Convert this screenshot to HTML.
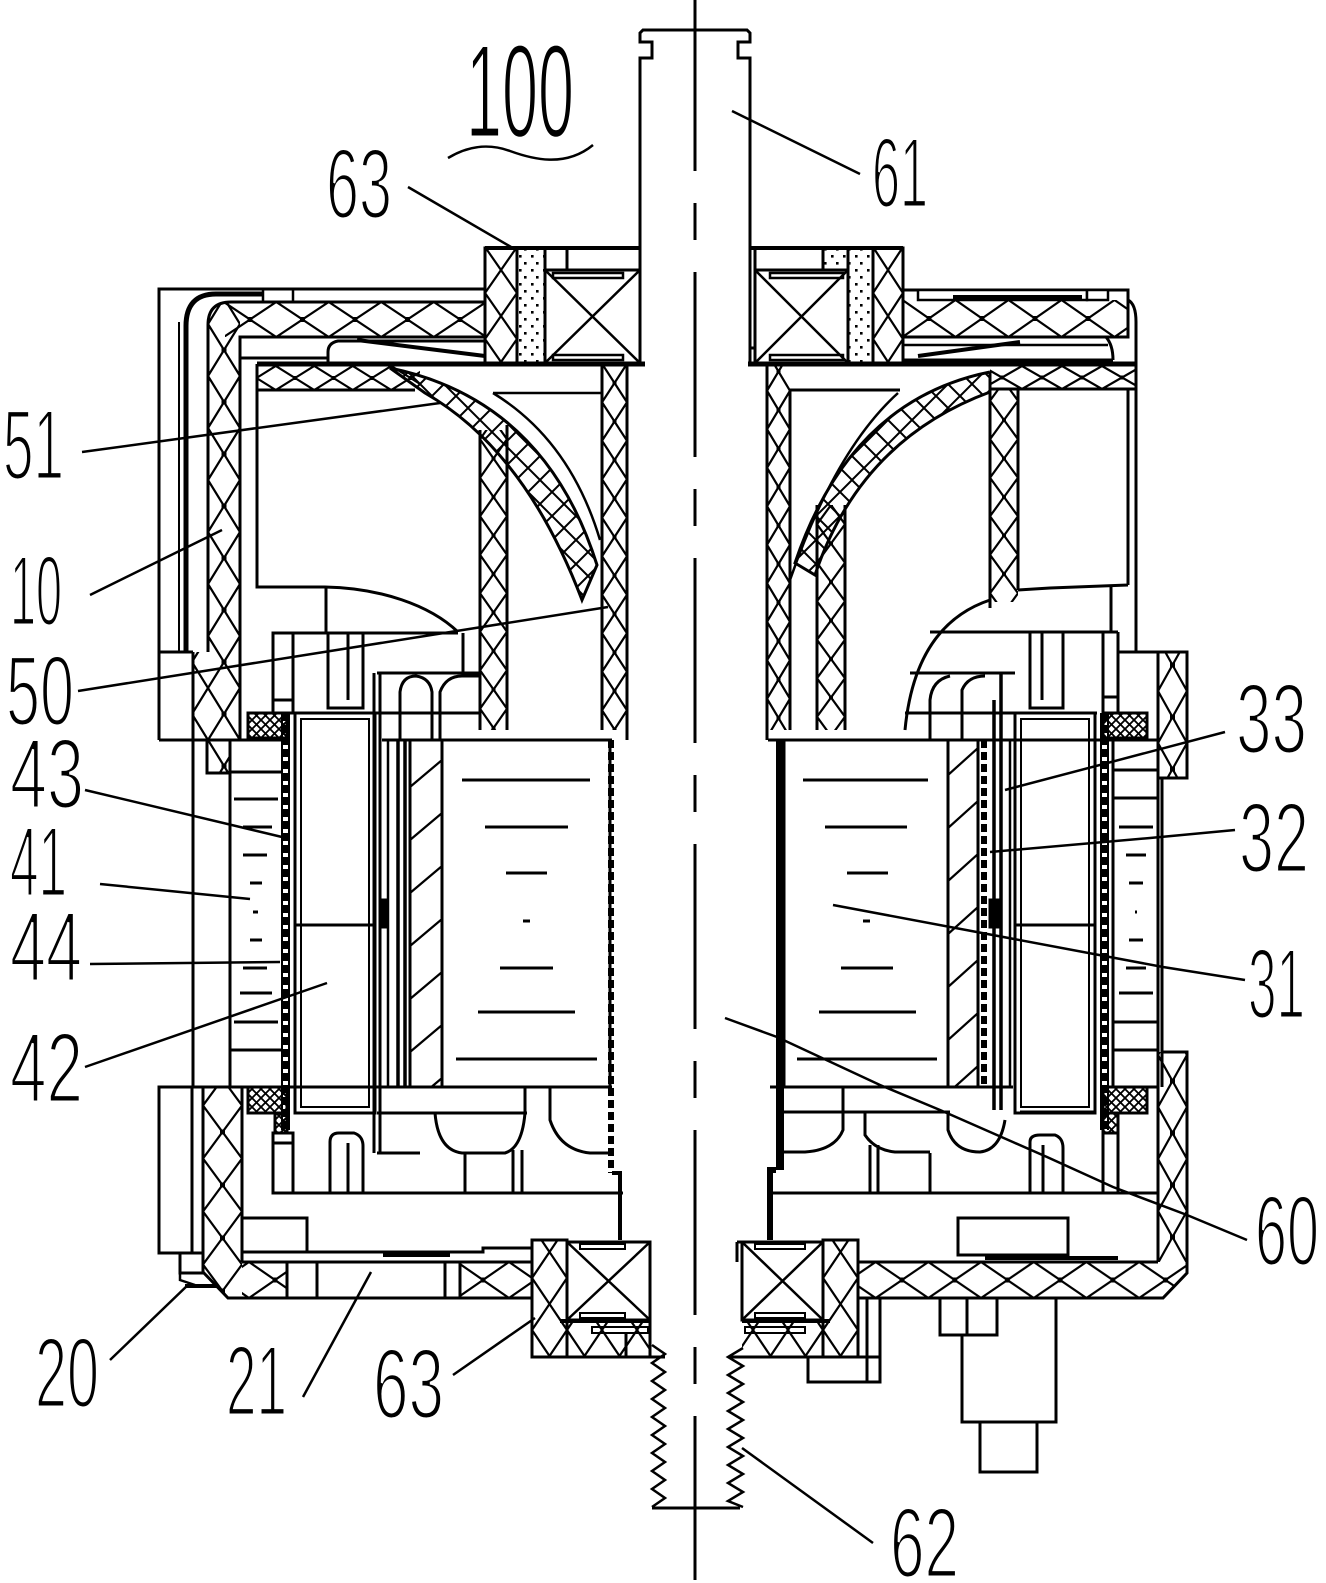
<!DOCTYPE html>
<html><head><meta charset="utf-8"><title>Motor section 100</title>
<style>html,body{margin:0;padding:0;background:#fff;}svg{display:block;}</style></head>
<body>
<svg xmlns="http://www.w3.org/2000/svg" width="1326" height="1583" viewBox="0 0 1326 1583">
<defs>
<pattern id="pA" patternUnits="userSpaceOnUse" x="250" y="302" width="52.5" height="35"><path d="M0,17.5L26.25,0L52.5,17.5L26.25,35Z" fill="none" stroke="#000" stroke-width="2.2"/><rect x="-2.5" y="15" width="5" height="5"/><rect x="50" y="15" width="5" height="5"/></pattern>
<pattern id="pB" patternUnits="userSpaceOnUse" x="208" y="350" width="32" height="52"><path d="M0,26L16,0L32,26L16,52Z" fill="none" stroke="#000" stroke-width="2.2"/><rect x="13.5" y="-2.5" width="5" height="5"/><rect x="13.5" y="49.5" width="5" height="5"/></pattern>
<pattern id="pC" patternUnits="userSpaceOnUse" x="1035" y="300" width="53" height="37"><path d="M0,18.5L26.5,0L53,18.5L26.5,37Z" fill="none" stroke="#000" stroke-width="2.2"/><rect x="-2.5" y="16" width="5" height="5"/><rect x="50.5" y="16" width="5" height="5"/></pattern>
<pattern id="pD" patternUnits="userSpaceOnUse" x="295" y="366" width="38.5" height="24"><path d="M0,12L19.25,0L38.5,12L19.25,24Z" fill="none" stroke="#000" stroke-width="2.2"/><rect x="-2" y="10" width="4" height="4"/><rect x="36.5" y="10" width="4" height="4"/></pattern>
<pattern id="pE" patternUnits="userSpaceOnUse" x="1042" y="366" width="40" height="23"><path d="M0,11.5L20,0L40,11.5L20,23Z" fill="none" stroke="#000" stroke-width="2.2"/><rect x="-2" y="9.5" width="4" height="4"/><rect x="38" y="9.5" width="4" height="4"/></pattern>
<pattern id="pF" patternUnits="userSpaceOnUse" x="602" y="383" width="25" height="38.5"><path d="M0,19.25L12.5,0L25,19.25L12.5,38.5Z" fill="none" stroke="#000" stroke-width="2.2"/><rect x="10.5" y="-2" width="4" height="4"/><rect x="10.5" y="36.5" width="4" height="4"/></pattern>
<pattern id="pG" patternUnits="userSpaceOnUse" x="767" y="410" width="23" height="38.5"><path d="M0,19.25L11.5,0L23,19.25L11.5,38.5Z" fill="none" stroke="#000" stroke-width="2.2"/><rect x="9.5" y="-2" width="4" height="4"/><rect x="9.5" y="36.5" width="4" height="4"/></pattern>
<pattern id="pH" patternUnits="userSpaceOnUse" x="480" y="420" width="27" height="38.5"><path d="M0,19.25L13.5,0L27,19.25L13.5,38.5Z" fill="none" stroke="#000" stroke-width="2.2"/><rect x="11.5" y="-2" width="4" height="4"/><rect x="11.5" y="36.5" width="4" height="4"/></pattern>
<pattern id="pI" patternUnits="userSpaceOnUse" x="817" y="505" width="28" height="38.5"><path d="M0,19.25L14,0L28,19.25L14,38.5Z" fill="none" stroke="#000" stroke-width="2.2"/><rect x="12" y="-2" width="4" height="4"/><rect x="12" y="36.5" width="4" height="4"/></pattern>
<pattern id="pJ" patternUnits="userSpaceOnUse" x="990" y="420" width="28" height="38.5"><path d="M0,19.25L14,0L28,19.25L14,38.5Z" fill="none" stroke="#000" stroke-width="2.2"/><rect x="12" y="-2" width="4" height="4"/><rect x="12" y="36.5" width="4" height="4"/></pattern>
<pattern id="pK" patternUnits="userSpaceOnUse" x="275" y="1262" width="52" height="36"><path d="M0,18L26,0L52,18L26,36Z" fill="none" stroke="#000" stroke-width="2.2"/><rect x="-2.5" y="15.5" width="5" height="5"/><rect x="49.5" y="15.5" width="5" height="5"/></pattern>
<pattern id="pL" patternUnits="userSpaceOnUse" x="902" y="1262" width="52.7" height="36"><path d="M0,18L26.35,0L52.7,18L26.35,36Z" fill="none" stroke="#000" stroke-width="2.2"/><rect x="-2.5" y="15.5" width="5" height="5"/><rect x="50.2" y="15.5" width="5" height="5"/></pattern>
<pattern id="pM" patternUnits="userSpaceOnUse" x="1158" y="665" width="29" height="52"><path d="M0,26L14.5,0L29,26L14.5,52Z" fill="none" stroke="#000" stroke-width="2.2"/><rect x="12" y="-2.5" width="5" height="5"/><rect x="12" y="49.5" width="5" height="5"/></pattern>
<pattern id="pN" patternUnits="userSpaceOnUse" x="203" y="1132" width="39" height="53"><path d="M0,26.5L19.5,0L39,26.5L19.5,53Z" fill="none" stroke="#000" stroke-width="2.2"/><rect x="17" y="-2.5" width="5" height="5"/><rect x="17" y="50.5" width="5" height="5"/></pattern>
<pattern id="pO1" patternUnits="userSpaceOnUse" x="485" y="270" width="32" height="46"><path d="M0,23L16,0L32,23L16,46Z" fill="none" stroke="#000" stroke-width="2.2"/></pattern>
<pattern id="pO2" patternUnits="userSpaceOnUse" x="873" y="270" width="30" height="46"><path d="M0,23L15,0L30,23L15,46Z" fill="none" stroke="#000" stroke-width="2.2"/></pattern>
<pattern id="pP1" patternUnits="userSpaceOnUse" x="532" y="1252" width="35" height="52"><path d="M0,26L17.5,0L35,26L17.5,52Z" fill="none" stroke="#000" stroke-width="2.2"/></pattern>
<pattern id="pP2" patternUnits="userSpaceOnUse" x="823" y="1252" width="35" height="52"><path d="M0,26L17.5,0L35,26L17.5,52Z" fill="none" stroke="#000" stroke-width="2.2"/></pattern>
<pattern id="pS" patternUnits="userSpaceOnUse" x="0" y="0" width="9" height="9"><path d="M0,0L9,9M9,0L0,9" fill="none" stroke="#000" stroke-width="1.8"/></pattern>
<pattern id="pT" patternUnits="userSpaceOnUse" x="0" y="0" width="12" height="14"><rect x="3" y="3" width="2.6" height="2.6" fill="#000"/><rect x="8" y="10" width="2.6" height="2.6" fill="#000"/></pattern>
<pattern id="pU" patternUnits="userSpaceOnUse" x="410" y="760" width="32" height="53"><path d="M32,0L0,27" fill="none" stroke="#000" stroke-width="2.2"/></pattern>
<pattern id="pV" patternUnits="userSpaceOnUse" x="948" y="748" width="30" height="53"><path d="M30,0L0,27" fill="none" stroke="#000" stroke-width="2.2"/></pattern>
<pattern id="pW" patternUnits="userSpaceOnUse" x="0" y="0" width="24" height="24"><path d="M0,12L12,0L24,12L12,24Z" fill="none" stroke="#000" stroke-width="2"/></pattern>
</defs>
<rect width="1326" height="1583" fill="#fff"/>

<!-- hatch fills -->
<g stroke="none">
<rect x="225" y="302" width="260" height="35" fill="url(#pA)"/>
<path d="M208,740L208,325Q208,302 231,302L240,302L240,740Z" fill="url(#pB)"/>
<rect x="193" y="652" width="15" height="88" fill="url(#pB)"/>
<rect x="207" y="740" width="23" height="33" fill="url(#pB)"/>
<rect x="485" y="248" width="32" height="115" fill="url(#pO1)"/>
<rect x="517" y="248" width="28" height="115" fill="url(#pT)"/>
<rect x="873" y="248" width="30" height="115" fill="url(#pO2)"/>
<rect x="848" y="248" width="25" height="115" fill="url(#pT)"/>
<rect x="823" y="248" width="25" height="22" fill="url(#pT)"/>
<rect x="903" y="300" width="225" height="37" fill="url(#pC)"/>
<rect x="257" y="366" width="163" height="24" fill="url(#pD)"/>
<rect x="990" y="366" width="146" height="23" fill="url(#pE)"/>
<rect x="602" y="366" width="25" height="364" fill="url(#pF)"/>
<rect x="767" y="366" width="23" height="364" fill="url(#pG)"/>
<rect x="480" y="430" width="27" height="300" fill="url(#pH)"/>
<rect x="817" y="505" width="28" height="225" fill="url(#pI)"/>
<rect x="990" y="389" width="28" height="213" fill="url(#pJ)"/>
<path d="M390,368Q545,400 597,565L582,600Q525,450 425,393Z" fill="url(#pW)"/>
<path d="M990,372Q850,400 795,563L815,575Q860,440 990,392Z" fill="url(#pW)"/>
<rect x="248" y="713" width="39" height="25" fill="url(#pS)"/>
<rect x="248" y="1087" width="39" height="26" fill="url(#pS)"/>
<rect x="275" y="1113" width="12" height="20" fill="url(#pS)"/>
<rect x="1103" y="713" width="44" height="25" fill="url(#pS)"/>
<rect x="1103" y="1087" width="44" height="26" fill="url(#pS)"/>
<rect x="1103" y="1113" width="15" height="20" fill="url(#pS)"/>
<rect x="410" y="740" width="32" height="347" fill="url(#pU)"/>
<rect x="948" y="740" width="30" height="347" fill="url(#pV)"/>
<rect x="1158" y="652" width="29" height="126" fill="url(#pM)"/>
<rect x="1158" y="1052" width="29" height="210" fill="url(#pM)"/>
<rect x="203" y="1087" width="39" height="175" fill="url(#pN)"/>
<path d="M203,1262L242,1262L242,1298L228,1298L203,1272Z" fill="url(#pN)"/>
<rect x="242" y="1262" width="45" height="36" fill="url(#pK)"/>
<rect x="460" y="1262" width="72" height="36" fill="url(#pK)"/>
<rect x="858" y="1262" width="300" height="36" fill="url(#pL)"/>
<path d="M1158,1262L1187,1262L1187,1273L1163,1298L1158,1298Z" fill="url(#pL)"/>
<rect x="532" y="1240" width="35" height="117" fill="url(#pP1)"/>
<rect x="567" y="1322" width="83" height="35" fill="url(#pP1)"/>
<rect x="823" y="1240" width="35" height="117" fill="url(#pP2)"/>
<rect x="742" y="1322" width="81" height="35" fill="url(#pP2)"/>
</g>

<g fill="none" stroke="#000" stroke-width="3">
<!-- center line -->
<line x1="695" y1="-14" x2="695" y2="1580" stroke-dasharray="185 32 37 32"/>
<!-- shaft top -->
<path d="M640,363L640,58L652,58L652,42L640,42L640,33L643,30L747,30L750,33L750,42L738,42L738,58L750,58L750,363"/>

<!-- left cover & housing -->
<path d="M159,740L159,289L485,289"/>
<path d="M159,652L193,652"/>
<path d="M159,740L282,740"/>
<path d="M193,652L193,1087"/>
<path d="M186,652L186,326Q186,294 216,294L263,294" stroke-width="5"/>
<path d="M179,652L179,322" stroke-width="2"/>
<rect x="263" y="289" width="30" height="13" stroke-width="2.5"/>
<path d="M208,652L208,325Q208,302 231,302L485,302"/>
<path d="M240,740L240,337L485,337"/>
<path d="M207,740L207,773L230,773"/>
<path d="M230,740L230,1087"/>

<!-- left fan -->
<path d="M240,358L328,358"/>
<path d="M485,341L338,341Q328,343 328,352L328,363"/>
<path d="M357,340L485,356" stroke-width="4"/>
<path d="M257,364L645,364" stroke-width="5"/>
<path d="M257,364L257,587L325,587C380,588 430,605 458,632"/>
<path d="M257,390L415,390"/>
<path d="M390,368Q545,400 597,565L582,600Q525,450 425,393Z"/>
<path d="M493,393L602,393" stroke-width="2.5"/>
<path d="M493,393Q570,440 600,540" stroke-width="2.5"/>
<path d="M602,364L602,730M627,364L627,740"/>
<path d="M480,430L480,730M507,425L507,730"/>
<path d="M326,587L326,633"/>

<!-- top-left bearing -->
<rect x="485" y="248" width="32" height="115"/>
<rect x="517" y="248" width="28" height="115"/>
<rect x="545" y="248" width="95" height="22"/>
<path d="M567,248L567,270"/>
<rect x="545" y="270" width="95" height="93"/>
<path d="M545,270L640,363M640,270L545,363" stroke-width="2.5"/>
<rect x="553" y="273" width="70" height="5" stroke-width="2.5"/>
<rect x="553" y="355" width="70" height="5" stroke-width="2.5"/>
<path d="M485,248L640,248" stroke-width="4"/>

<!-- top-right bearing -->
<rect x="873" y="248" width="30" height="115"/>
<rect x="848" y="248" width="25" height="115"/>
<path d="M823,248L823,270L848,270"/>
<rect x="755" y="248" width="68" height="22"/>
<rect x="755" y="270" width="93" height="93"/>
<path d="M755,270L848,363M848,270L755,363" stroke-width="2.5"/>
<rect x="770" y="273" width="73" height="5" stroke-width="2.5"/>
<rect x="770" y="355" width="73" height="5" stroke-width="2.5"/>
<path d="M750,248L903,248" stroke-width="4"/>
<path d="M750,348L755,348" />

<!-- right housing top -->
<path d="M903,290L1128,290L1128,337L903,337"/>
<rect x="918" y="290" width="169" height="10" fill="#fff" stroke-width="2.5"/>
<path d="M953,297L1082,297" stroke-width="4"/>
<rect x="1087" y="290" width="21" height="10" fill="#fff" stroke-width="2.5"/>
<path d="M1128,300Q1136,304 1136,322L1136,652"/>
<path d="M903,345L1108,345" stroke-width="2.5"/>
<path d="M903,360L1113,360"/>
<path d="M1106,337Q1113,345 1113,360"/>
<path d="M918,356L1020,342" stroke-width="4"/>
<path d="M748,364L1137,364" stroke-width="5"/>

<!-- right fan -->
<path d="M990,389L1136,389"/>
<path d="M1128,389L1128,585M1018,389L1018,590M1018,590L1050,588L1128,585"/>
<path d="M990,372L990,608"/>
<path d="M990,372Q850,400 795,563L815,575Q860,440 990,392"/>
<path d="M898,393Q835,450 790,580" stroke-width="2.5"/>
<path d="M790,390L900,390"/>
<path d="M767,364L767,740M790,390L790,730"/>
<path d="M817,505L817,730M845,505L845,730"/>
<path d="M990,600Q915,625 905,730"/>

<!-- right fins -->
<path d="M930,632L1118,632"/>
<path d="M1030,632L1030,708L1063,708L1063,632"/>
<path d="M1042,632L1042,700"/>
<path d="M1103,632L1103,713M1118,632L1118,713M1103,697L1118,697"/>
<path d="M1111,585L1111,632"/>
<path d="M910,673L1015,673"/>
<path d="M930,740L930,700Q932,680 950,676M962,740L962,690Q968,676 985,676"/>
<path d="M1118,652L1187,652L1187,778L1158,778L1158,652"/>
<path d="M905,713L1097,713M768,740L1113,740"/>

<!-- left fins -->
<rect x="273" y="633" width="20" height="80"/>
<path d="M273,700L293,700"/>
<path d="M328,633L328,708L363,708L363,633M348,633L348,700"/>
<path d="M273,633L458,633"/>
<path d="M463,633L463,673"/>
<path d="M377,673L480,673"/>
<path d="M400,740L400,692Q402,676 416,676Q430,678 432,692L432,740"/>
<path d="M440,740L440,692Q446,676 462,676L480,676"/>
<path d="M248,713L480,713"/>
<path d="M382,740L612,740"/>

<!-- left stator / rotor -->
<path d="M230,772L282,772M230,1050L282,1050"/>
<path d="M234,799L278,799M243,827L272,827M243,855L267,855M250,883L262,883M253,912L258,912M250,940L262,940M243,968L267,968M240,993L272,993M234,1022L278,1022"/>
<path d="M282,713L282,1130M289,713L289,1130" stroke-width="2"/>
<path d="M285.5,713L285.5,1130" stroke-width="5" stroke-dasharray="8 4"/>
<rect x="248" y="713" width="39" height="25"/>
<rect x="248" y="1087" width="39" height="26"/>
<rect x="275" y="1113" width="12" height="20"/>
<rect x="295" y="713" width="80" height="400"/>
<rect x="301" y="719" width="68" height="388" stroke-width="2"/>
<path d="M295,925L375,925"/>
<path d="M374,673L374,1153M380,673L380,1153"/>
<rect x="380" y="900" width="6" height="27" fill="#000"/>
<path d="M388,740L388,1087" stroke-width="2.5"/>
<path d="M398,740L398,1087M405,740L405,1087" stroke-width="3.5"/>
<rect x="410" y="740" width="32" height="347"/>
<rect x="442" y="740" width="168" height="347"/>
<path d="M611,740L611,1173" stroke-width="6" stroke-dasharray="8 4"/>
<path d="M462,780L590,780M485,827L568,827M506,873L547,873M523,921L530,921M500,968L553,968M478,1012L575,1012M456,1059L597,1059"/>

<!-- right stator / rotor -->
<path d="M780,740L780,1170" stroke-width="8"/>
<path d="M776,1170L770,1170L770,1240" stroke-width="6"/>
<rect x="784" y="740" width="164" height="347"/>
<rect x="948" y="740" width="30" height="347"/>
<path d="M984,740L984,1087" stroke-width="6" stroke-dasharray="8 4"/>
<path d="M994,700L994,1110M1001,673L1001,1110" stroke-width="3.5"/>
<rect x="990" y="900" width="10" height="27" fill="#000"/>
<path d="M1010,740L1010,1087" stroke-width="2.5"/>
<rect x="1015" y="713" width="80" height="400"/>
<rect x="1021" y="719" width="68" height="388" stroke-width="2"/>
<path d="M1015,925L1095,925"/>
<path d="M1101,713L1101,1130M1108,713L1108,1130" stroke-width="2"/>
<path d="M1104.5,713L1104.5,1130" stroke-width="5" stroke-dasharray="8 4"/>
<rect x="1103" y="713" width="44" height="25"/>
<rect x="1103" y="1087" width="44" height="26"/>
<rect x="1103" y="1113" width="15" height="20"/>
<rect x="1113" y="740" width="45" height="347"/>
<path d="M1113,770L1158,770M1113,798L1158,798M1113,1022L1158,1022M1113,1050L1158,1050"/>
<path d="M1119,827L1153,827M1126,855L1146,855M1129,883L1143,883M1135,912L1137,912M1129,940L1143,940M1126,968L1146,968M1119,993L1153,993"/>
<path d="M803,780L928,780M825,827L907,827M847,873L888,873M863,921L870,921M841,968L893,968M819,1012L916,1012M797,1059L937,1059"/>
<path d="M1162,778L1162,1087"/>

<!-- lower left -->
<path d="M159,1087L612,1087"/>
<rect x="159" y="1087" width="44" height="166"/>
<path d="M192,1087L192,1253"/>
<rect x="180" y="1253" width="23" height="20"/>
<path d="M180,1273L180,1280L195,1285" stroke-width="2.5"/>
<path d="M185,1286L217,1286" stroke-width="4"/>
<path d="M203,1087L203,1272L228,1298L532,1298"/>
<path d="M242,1087L242,1262"/>
<path d="M242,1262L532,1262"/>
<path d="M287,1262L287,1298M317,1262L317,1298M445,1262L445,1298M460,1262L460,1298"/>
<rect x="242" y="1218" width="65" height="34"/>
<path d="M307,1252L483,1252L483,1248L532,1248"/>
<path d="M383,1255L450,1255" stroke-width="4"/>
<path d="M273,1193L623,1193"/>
<rect x="273" y="1133" width="20" height="60"/>
<path d="M273,1143L293,1143"/>
<path d="M330,1193L330,1142Q330,1133 339,1133L354,1133Q363,1136 363,1146L363,1193M348,1143L348,1193"/>
<path d="M465,1153L465,1193"/>
<path d="M377,1113L527,1113M377,1153L420,1153"/>
<path d="M435,1113Q438,1150 462,1153L505,1153Q522,1148 525,1113"/>
<path d="M525,1087L525,1113"/>
<path d="M550,1087L550,1120Q560,1150 590,1153L612,1153"/>
<path d="M513,1150L513,1193M522,1150L522,1193"/>
<path d="M612,1173L620,1173L620,1240" stroke-width="4"/>

<!-- lower left bearing -->
<rect x="532" y="1240" width="35" height="117"/>
<rect x="567" y="1242" width="83" height="78"/>
<path d="M567,1242L650,1320M650,1242L567,1320" stroke-width="2.5"/>
<rect x="580" y="1244" width="45" height="5" stroke-width="2"/>
<rect x="580" y="1313" width="45" height="5" stroke-width="2"/>
<path d="M560,1321L650,1321" stroke-width="4"/>
<rect x="592" y="1327" width="56" height="6" stroke-width="2"/>
<path d="M626,1333L626,1357M650,1320L650,1357"/>
<path d="M532,1357L665,1357"/>

<!-- lower right -->
<path d="M770,1087L1013,1087"/>
<path d="M784,1112L950,1112M1020,1112L1095,1112"/>
<path d="M843,1087L843,1130Q835,1150 805,1152L784,1152"/>
<path d="M865,1112L865,1135Q875,1150 895,1152L930,1152"/>
<path d="M948,1112L948,1130Q955,1152 980,1152Q1000,1150 1005,1120"/>
<path d="M770,1193L1158,1193"/>
<path d="M870,1145L870,1193M878,1145L878,1193M930,1153L930,1193"/>
<path d="M1030,1193L1030,1142Q1030,1135 1040,1135L1055,1135Q1063,1138 1063,1148L1063,1193M1043,1145L1043,1193"/>
<path d="M1103,1133L1103,1193M1118,1133L1118,1193"/>
<path d="M1158,1087L1158,1262"/>
<path d="M1162,1052L1187,1052L1187,1273L1163,1298L858,1298"/>
<path d="M858,1262L1158,1262"/>
<path d="M985,1258L1118,1258" stroke-width="4"/>
<rect x="958" y="1218" width="110" height="37"/>

<!-- lower right bearing -->
<rect x="823" y="1240" width="35" height="117"/>
<rect x="742" y="1242" width="81" height="78"/>
<path d="M742,1242L823,1320M823,1242L742,1320" stroke-width="2.5"/>
<rect x="755" y="1244" width="50" height="5" stroke-width="2"/>
<rect x="755" y="1313" width="50" height="5" stroke-width="2"/>
<path d="M742,1321L830,1321" stroke-width="4"/>
<path d="M737,1242L742,1242M737,1242L737,1262"/>
<rect x="745" y="1327" width="60" height="6" stroke-width="2"/>
<path d="M730,1357L858,1357"/>
<rect x="808" y="1357" width="72" height="25"/>
<path d="M867,1298L867,1382M880,1298L880,1382"/>

<!-- connector -->
<rect x="940" y="1298" width="57" height="37"/>
<path d="M967,1298L967,1335"/>
<path d="M962,1335L962,1422L1056,1422L1056,1298"/>
<rect x="980" y="1422" width="57" height="50"/>

<!-- threads -->
<path d="M652,1345L665,1354L652,1363L665,1372L652,1381L665,1390L652,1399L665,1408L652,1417L665,1426L652,1435L665,1444L652,1453L665,1462L652,1471L665,1480L652,1489L665,1498L652,1507" stroke-width="2.5"/>
<path d="M743,1348L728,1357L743,1366L728,1375L743,1384L728,1393L743,1402L728,1411L743,1420L728,1429L743,1438L728,1447L743,1456L728,1465L743,1474L728,1483L743,1492L728,1501L743,1507" stroke-width="2.5"/>
<path d="M652,1508L740,1508"/>
</g>

<!-- leaders -->
<g fill="none" stroke="#000" stroke-width="2.5">
<path d="M82,452L440,403"/>
<path d="M90,595L222,530"/>
<path d="M78,691L608,607"/>
<path d="M85,790L282,837"/>
<path d="M100,884L250,899"/>
<path d="M90,964L280,962"/>
<path d="M85,1067L327,983"/>
<path d="M110,1360L190,1283"/>
<path d="M303,1397L371,1272"/>
<path d="M453,1375L535,1318"/>
<path d="M408,187L511,247"/>
<path d="M732,111L860,174"/>
<path d="M1225,732L1005,790"/>
<path d="M1235,830L1150,838L990,852"/>
<path d="M1245,980L1163,967L833,905"/>
<path d="M1247,1240L1187,1215L1113,1187L1047,1157L940,1110L880,1085L777,1037L725,1018"/>
<path d="M873,1543L742,1448"/>
<path d="M448,158C468,146 488,143 510,151S565,168 593,145"/>
</g>

<!-- labels -->
<g font-family="'Liberation Sans', Arial, sans-serif" fill="#000" stroke="#fff" stroke-width="3">
<text x="466" y="137" font-size="133" textLength="108" lengthAdjust="spacingAndGlyphs">100</text>
<text x="326" y="218" font-size="99" textLength="66" lengthAdjust="spacingAndGlyphs">63</text>
<text x="872" y="207" font-size="99" textLength="56" lengthAdjust="spacingAndGlyphs">61</text>
<text x="3" y="479" font-size="99" textLength="61" lengthAdjust="spacingAndGlyphs">51</text>
<text x="10" y="625" font-size="99" textLength="52" lengthAdjust="spacingAndGlyphs">10</text>
<text x="6" y="725" font-size="99" textLength="68" lengthAdjust="spacingAndGlyphs">50</text>
<text x="10" y="808" font-size="99" textLength="74" lengthAdjust="spacingAndGlyphs">43</text>
<text x="10" y="896" font-size="99" textLength="57" lengthAdjust="spacingAndGlyphs">41</text>
<text x="10" y="981" font-size="99" textLength="72" lengthAdjust="spacingAndGlyphs">44</text>
<text x="10" y="1102" font-size="99" textLength="73" lengthAdjust="spacingAndGlyphs">42</text>
<text x="35" y="1407" font-size="99" textLength="64" lengthAdjust="spacingAndGlyphs">20</text>
<text x="226" y="1415" font-size="99" textLength="61" lengthAdjust="spacingAndGlyphs">21</text>
<text x="373" y="1418" font-size="99" textLength="71" lengthAdjust="spacingAndGlyphs">63</text>
<text x="1236" y="753" font-size="99" textLength="71" lengthAdjust="spacingAndGlyphs">33</text>
<text x="1239" y="872" font-size="99" textLength="70" lengthAdjust="spacingAndGlyphs">32</text>
<text x="1248" y="1018" font-size="99" textLength="57" lengthAdjust="spacingAndGlyphs">31</text>
<text x="1255" y="1265" font-size="99" textLength="64" lengthAdjust="spacingAndGlyphs">60</text>
<text x="890" y="1577" font-size="99" textLength="69" lengthAdjust="spacingAndGlyphs">62</text>
</g>
</svg>
</body></html>
